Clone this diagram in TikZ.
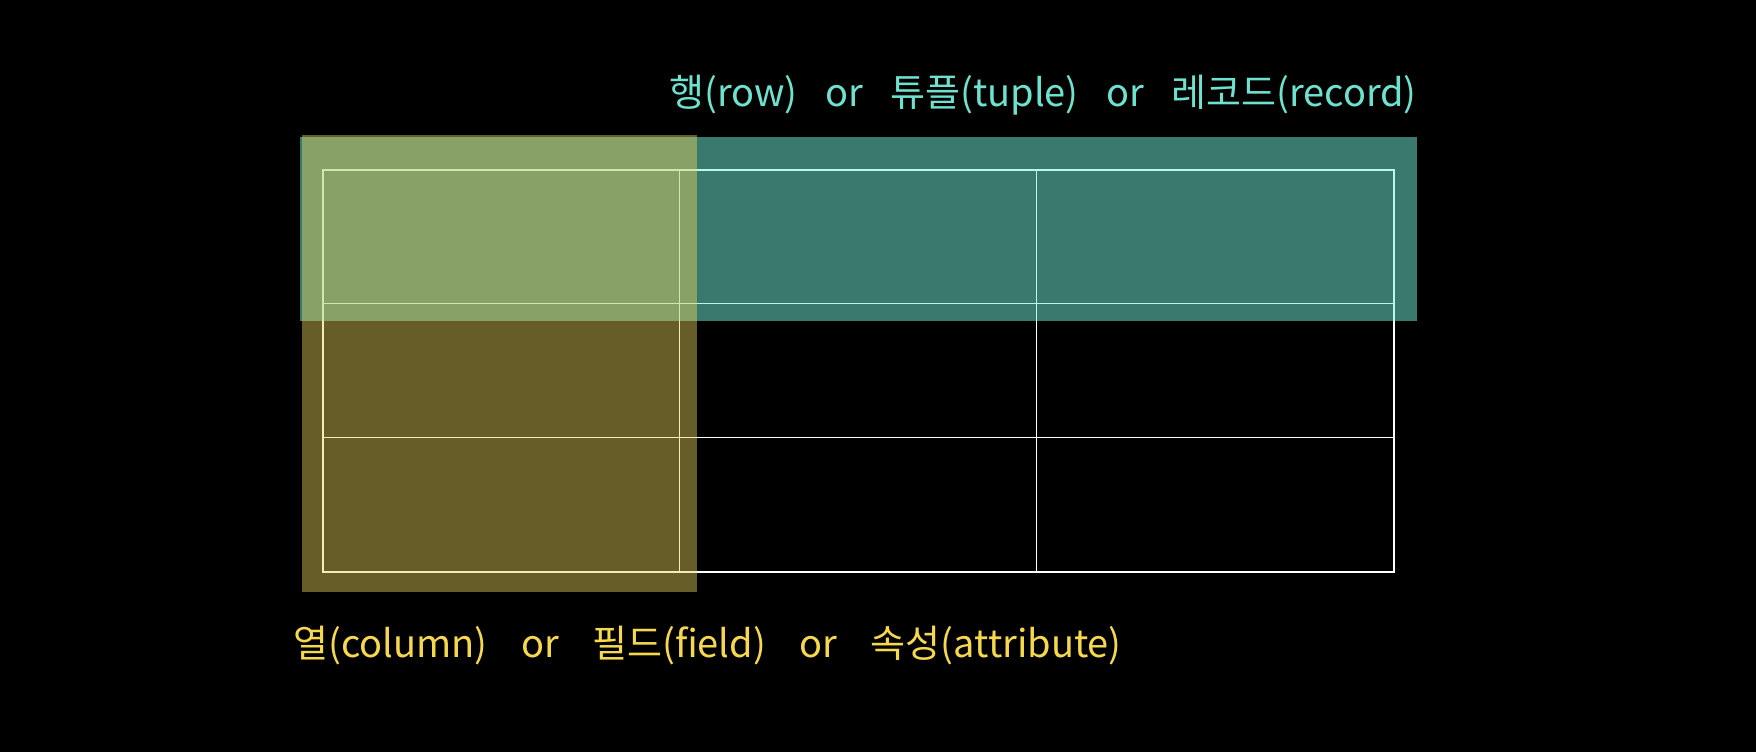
\documentclass[tikz,border=0pt]{standalone}
\usepackage{fontspec}
\newfontfamily\krfont{Noto Sans CJK KR}
\definecolor{rowfill}{RGB}{116,244,220}
\definecolor{colfill}{RGB}{236,212,92}
\definecolor{rowtext}{RGB}{110,226,206}
\definecolor{coltext}{RGB}{246,216,78}
\newcommand{\rgap}{\hspace{27.5pt}}
\newcommand{\cgap}{\hspace{33.5pt}}
\tikzset{
  gridline/.style={white, line width=1pt},
  gridborder/.style={white, line width=2pt},
  rowband/.style={fill=rowfill, fill opacity=0.5, draw=none},
  colband/.style={fill=colfill, fill opacity=0.44, draw=none},
  label/.style={font=\krfont\fontsize{38}{42}\selectfont, inner sep=0pt},
}
\begin{document}
\begin{tikzpicture}[x=1pt,y=-1pt]
\fill[black] (0,0) rectangle (1756,752);
\useasboundingbox (0,0) rectangle (1756,752);
% table grid
\coordinate (tl) at (322.7,170);
\coordinate (br) at (1394,572);
\draw[gridline] (679.5,170) -- (679.5,572);
\draw[gridline] (1036.5,170) -- (1036.5,572);
\draw[gridline] (322.7,303.3) -- (1394,303.3);
\draw[gridline] (322.7,437.3) -- (1394,437.3);
\draw[gridborder] (tl) rectangle (br);
% highlight bands
\path[rowband] (300,137) rectangle (1417,321);
\path[colband] (302,135) rectangle (697,592);
% labels
\node[label, text=rowtext, anchor=east] (rowlabel) at (1417,95) {행(row)\rgap or\rgap 튜플(tuple)\rgap or\rgap 레코드(record)};
\node[label, text=coltext, anchor=west] (collabel) at (293,646) {열(column)\cgap or\cgap 필드(field)\cgap or\cgap 속성(attribute)};
\end{tikzpicture}
\end{document}
